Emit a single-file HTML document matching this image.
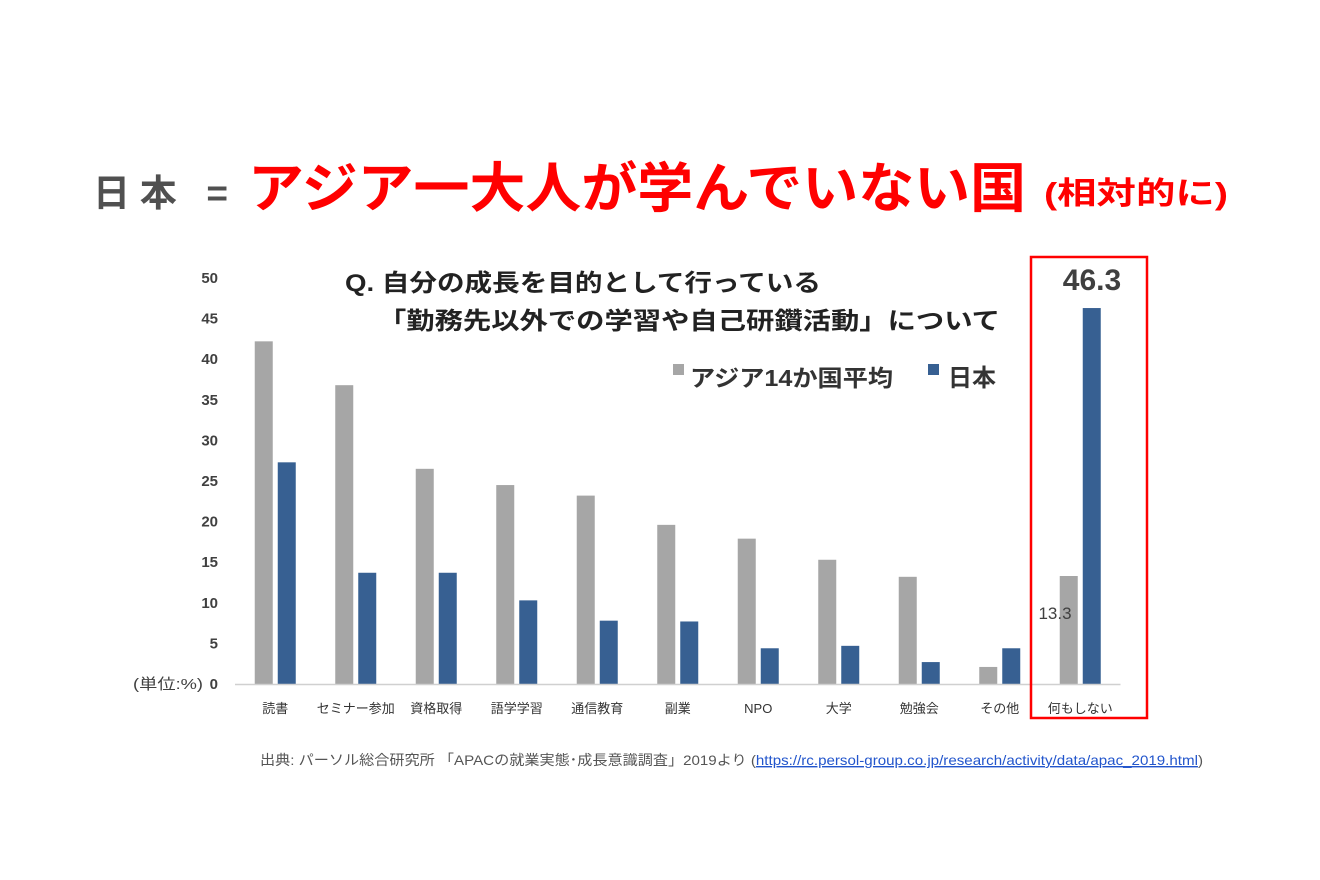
<!DOCTYPE html>
<html><head><meta charset="utf-8">
<style>
body{margin:0;background:#fff;}
svg{display:block;font-family:"Liberation Sans","Noto Sans CJK JP",sans-serif;}
</style></head>
<body>
<svg width="1320" height="880" viewBox="0 0 1320 880">
<rect width="1320" height="880" fill="#fff"/>
<text x="93" y="206" font-size="37" font-weight="bold" fill="#505050" textLength="135" lengthAdjust="spacing">日本 =</text>
<text x="248" y="207" font-size="54" font-weight="bold" fill="#ff0000" textLength="778" lengthAdjust="spacingAndGlyphs">アジア一大人が学んでいない国</text>
<text x="1044" y="204" font-size="31" font-weight="bold" fill="#ff0000" textLength="184" lengthAdjust="spacingAndGlyphs">(相対的に)</text>
<text x="345" y="291" font-size="24" font-weight="bold" fill="#222" textLength="476" lengthAdjust="spacingAndGlyphs">Q. 自分の成長を目的として行っている</text>
<text x="378" y="329" font-size="24" font-weight="bold" fill="#222" textLength="622" lengthAdjust="spacingAndGlyphs">「勤務先以外での学習や自己研鑽活動」について</text>
<g>
<rect x="673" y="364" width="11" height="11" fill="#a6a6a6"/>
<text x="690" y="386" font-size="23" font-weight="bold" fill="#333" textLength="203" lengthAdjust="spacingAndGlyphs">アジア14か国平均</text>
<rect x="928" y="364" width="11" height="11" fill="#376092"/>
<text x="948" y="386" font-size="24" font-weight="bold" fill="#333">日本</text>
</g>
<g id="chart"></g>
<rect x="1031" y="257" width="116" height="461" fill="none" stroke="#ff0000" stroke-width="2.5"/>
<text x="1092" y="290" font-size="30" font-weight="bold" fill="#404040" text-anchor="middle">46.3</text>
<text x="1055" y="619" font-size="17" fill="#404040" text-anchor="middle">13.3</text>
<text x="260" y="765" font-size="14" fill="#555" textLength="943" lengthAdjust="spacingAndGlyphs">出典: パーソル総合研究所 「APACの就業実態･成長意識調査」2019より (<tspan fill="#2255cc" text-decoration="underline">https://rc.persol-group.co.jp/research/activity/data/apac_2019.html</tspan>)</text>
</svg>
<script>
const categories = ["読書","セミナー参加","資格取得","語学学習","通信教育","副業","NPO","大学","勉強会","その他","何もしない"];
const asiaValues = [42.2,36.8,26.5,24.5,23.2,19.6,17.9,15.3,13.2,2.1,13.3];
const japanValues = [27.3,13.7,13.7,10.3,7.8,7.7,4.4,4.7,2.7,4.4,46.3];
const yTicks = [0,5,10,15,20,25,30,35,40,45,50];

const NS="http://www.w3.org/2000/svg";
const g=document.getElementById('chart');
const x0=235, step=80.5, y0=684, pxPerUnit=8.12, barW=18;
const yScale=v=>y0-v*pxPerUnit;
const xCenter=i=>x0+step*(i+0.5);
function mk(tag,attrs){const e=document.createElementNS(NS,tag);for(const k in attrs)e.setAttribute(k,attrs[k]);g.appendChild(e);return e;}
yTicks.forEach(t=>{
  const e=mk('text',{x:218,y:yScale(t)+5,'font-size':15,'font-weight':'bold',fill:'#404040','text-anchor':'end'});
  e.textContent=t;
  
  
});
const unit=mk('text',{x:133,y:689,'font-size':15,fill:'#404040',textLength:70,lengthAdjust:'spacingAndGlyphs'});
unit.textContent='(単位:%)';


categories.forEach((c,i)=>{
  const cx=xCenter(i);
  const a=mk('rect',{x:cx-barW-2.5,y:yScale(asiaValues[i]),width:barW,height:asiaValues[i]*pxPerUnit,fill:'#a6a6a6'});
  
  
  const j=mk('rect',{x:cx+2.5,y:yScale(japanValues[i]),width:barW,height:japanValues[i]*pxPerUnit,fill:'#376092'});
  
  
  const l=mk('text',{x:cx,y:713,'font-size':13,fill:'#333','text-anchor':'middle'});
  l.textContent=c;
  
  
});
const ax=mk('line',{x1:x0,y1:y0+0.5,x2:x0+step*categories.length,y2:y0+0.5,stroke:'#d0d0d0','stroke-width':1.5});


</script>
</body></html>
